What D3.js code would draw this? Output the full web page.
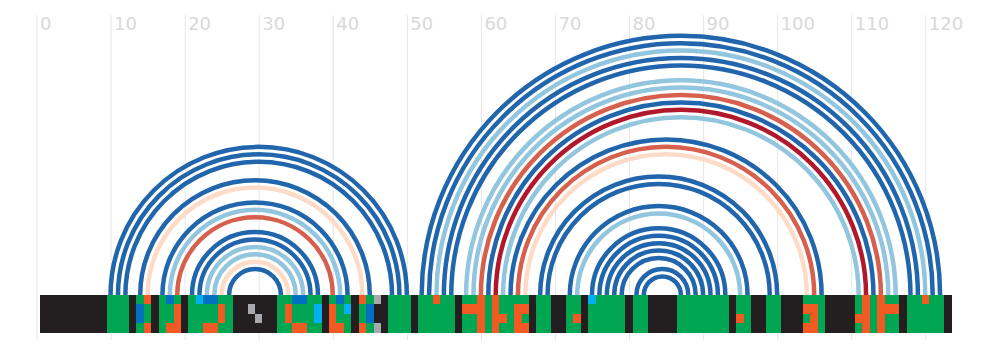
<!DOCTYPE html>
<html>
<head>
<meta charset="utf-8">
<script src="https://cdn.jsdelivr.net/npm/d3@7"></script>
<style>
  body { margin: 0; background: #fff; }
  .tick line { stroke: #e6e6e6; }
  .tick text { fill: #d9d9d9; font-family: "DejaVu Sans", sans-serif; font-size: 18px; }
</style>
</head>
<body>
<div id="arcplot"></div>
<script>

// axis ticks (nucleotide position)
var tickValues = [0, 10, 20, 30, 40, 50, 60, 70, 80, 90, 100, 110, 120];

// base pairs: 5' position, 3' position, colour class
var pairStart = [10, 11, 12, 14, 15, 17, 18, 19, 21, 22, 23, 24, 25, 26,
                 52, 53, 54, 55, 56, 58, 59, 60, 61, 62, 63, 64, 65, 66,
                 68, 69, 72, 73, 75, 76, 77, 78, 79, 81, 82];
var pairEnd   = [50, 49, 48, 45, 44, 42, 41, 40, 38, 37, 36, 35, 34, 33,
                 122, 121, 120, 119, 118, 116, 115, 114, 113, 112, 111, 106, 105, 104,
                 100, 99, 96, 95, 93, 92, 91, 90, 89, 88, 87];
var pairClass = ["db", "db", "db", "db", "pe", "db", "lb", "sa", "db", "db", "lb", "lb", "pe", "db",
                 "db", "db", "lb", "db", "db", "lb", "lb", "sa", "db", "dr", "lb", "db", "sa", "pe",
                 "db", "db", "db", "lb", "db", "db", "db", "db", "db", "db", "db"];

// track under the arcs: one string per position (1..123), 4 rows top to bottom
var cells = [
  "DDDD", "DDDD", "DDDD", "DDDD", "DDDD", "DDDD", "DDDD", "DDDD", "DDDD", "GGGG",
  "GGGG", "GGGG", "DDDD", "GBBG", "OGGO", "DDDD", "GGGG", "BGGO", "GOOO", "DDDD",
  "GGGG", "CGGG", "BGGO", "BGGO", "GOOG", "GGGG", "DDDD", "DDDD", "DSDD", "DDSD",
  "DDDD", "DDDD", "GGGG", "GOOG", "BGGO", "BGGO", "GGGG", "GCCG", "DDDD", "GOOO",
  "BGGO", "GCGG", "DDDD", "OGGO", "GBBG", "SDDS", "DDDD", "GGGG", "GGGG", "GGGG",
  "DDDD", "GGGG", "GGGG", "OGGG", "GGGG", "GGGG", "DDDD", "GOGG", "GOGG", "OOOO",
  "GGGG", "OOOO", "GGOG", "GGGG", "GOOO", "GOGO", "DDDD", "GGGG", "GGGG", "DDDD",
  "DDDD", "GGGG", "GGOG", "DDDD", "CGGG", "GGGG", "GGGG", "GGGG", "GGGG", "DDDD",
  "GGGG", "GGGG", "DDDD", "DDDD", "DDDD", "DDDD", "GGGG", "GGGG", "GGGG", "GGGG",
  "GGGG", "GGGG", "GGGG", "DDDD", "GGOG", "GGGG", "DDDD", "DDDD", "GGGG", "GGGG",
  "DDDD", "DDDD", "DDDD", "GOGO", "GOOO", "GGGG", "DDDD", "DDDD", "DDDD", "DDDD",
  "GGOG", "OOOO", "GGGG", "OOOO", "GOGG", "GOGG", "DDDD", "GGGG", "GGGG", "OGGG",
  "GGGG", "GGGG", "DDDD"
];

var width = 984, height = 352;
var baseY = 295, trackHeight = 37;

var svg = d3.select("#arcplot").append("svg")
    .attr("width", width)
    .attr("height", height);

var x = d3.scaleLinear()
    .domain([0, 120])
    .range([36.5, 925.3]);

var arcColor = d3.scaleOrdinal()
    .domain(["db", "lb", "pe", "sa", "dr"])
    .range(["#2166ac", "#92c5de", "#fddbc7", "#d6604d", "#b2182b"]);

var cellColor = d3.scaleOrdinal()
    .domain(["D", "G", "O", "B", "C", "S"])
    .range(["#231f20", "#00a651", "#f15a22", "#0070c0", "#00b0f0", "#a7a9ac"]);

// grid + labels
var axis = d3.axisBottom(x)
    .tickValues(tickValues)
    .tickSize(325)
    .tickSizeOuter(0);

var gAxis = svg.append("g")
    .attr("transform", "translate(0,15)")
    .call(axis);
gAxis.select(".domain").remove();
gAxis.selectAll(".tick text")
    .attr("text-anchor", "start")
    .attr("x", 3)
    .attr("y", 15)
    .attr("dy", 0);

// arcs
var pairs = pairStart.map(function(s, i) {
  return { start: s, end: pairEnd[i], cls: pairClass[i] };
});

svg.append("g").selectAll("path")
    .data(pairs)
    .enter().append("path")
    .attr("d", function(d) {
      var x0 = x(d.start), x1 = x(d.end), r = (x1 - x0) / 2;
      return "M" + x0 + "," + baseY + " A" + r + "," + r + " 0 0 1 " + x1 + "," + baseY;
    })
    .attr("fill", "none")
    .attr("stroke", function(d) { return arcColor(d.cls); })
    .attr("stroke-width", 4.5);

// track
var unit = x(1) - x(0);
var rowH = trackHeight / 4;
var cellData = [];
cells.forEach(function(c, i) {
  for (var r = 0; r < 4; r++) {
    cellData.push({ pos: i + 1, row: r, code: c.charAt(r) });
  }
});

svg.append("g")
    .attr("shape-rendering", "crispEdges")
  .selectAll("rect")
    .data(cellData)
    .enter().append("rect")
    .attr("x", function(d) { return x(d.pos - 0.5); })
    .attr("y", function(d) { return baseY + d.row * rowH; })
    .attr("width", unit + 0.6)
    .attr("height", rowH + 0.6)
    .attr("fill", function(d) { return cellColor(d.code); });

</script>
</body>
</html>
